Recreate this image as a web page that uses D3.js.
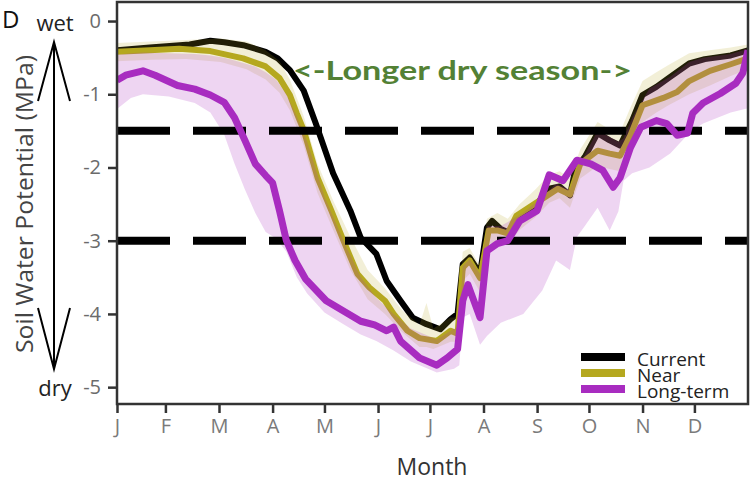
<!DOCTYPE html>
<html>
<head>
<meta charset="utf-8">
<script src="https://cdn.jsdelivr.net/npm/d3@7"></script>
<style>
  html, body { margin: 0; padding: 0; background: #fff; }
  svg { display: block; }
</style>
</head>
<body>
<svg id="chart" width="753" height="481"></svg>
<script>
// ---------------- DATA ----------------
const monthDays   = [0, 28, 59, 90, 120, 151, 181, 212, 243, 273, 304, 334];
const monthLabels = ["J", "F", "M", "A", "M", "J", "J", "A", "S", "O", "N", "D"];
const yTicks      = [0, -1, -2, -3, -4, -5];
const thresholds  = [-1.5, -3];
const seriesNames = ["Current", "Near", "Long-term"];

const currentDays = [0,19,42,54,62,73,86,93,100,108,115,125,135,141,150,156,164,171,179,187,193,197,200,204,210,214,217,222,227,233,242,250,256,262,265,271,278,285,291,298,304,312,319,331,340,355,365];
const currentVals = [-0.40,-0.36,-0.32,-0.27,-0.29,-0.33,-0.42,-0.51,-0.67,-0.95,-1.40,-2.08,-2.59,-2.96,-3.18,-3.55,-3.82,-4.05,-4.14,-4.21,-4.07,-4.00,-3.32,-3.23,-3.45,-2.82,-2.73,-2.84,-2.89,-2.70,-2.52,-2.29,-2.26,-2.38,-2.04,-1.84,-1.53,-1.63,-1.70,-1.36,-1.01,-0.90,-0.78,-0.58,-0.52,-0.47,-0.40];

const nearDays = [0,19,36,54,73,86,94,100,104,108,116,124,131,139,146,155,160,168,175,185,193,197,200,204,210,215,220,226,231,242,255,262,268,278,285,291,297,304,316,324,331,343,355,365];
const nearVals = [-0.42,-0.40,-0.38,-0.41,-0.51,-0.62,-0.78,-1.01,-1.26,-1.49,-2.14,-2.59,-3.00,-3.45,-3.64,-3.82,-4.00,-4.23,-4.33,-4.37,-4.23,-4.27,-3.37,-3.27,-3.51,-2.86,-2.86,-2.90,-2.66,-2.49,-2.29,-2.37,-1.95,-1.77,-1.81,-1.84,-1.56,-1.15,-1.05,-0.97,-0.82,-0.68,-0.59,-0.51];

const longDays = [0,5,15,22,35,45,54,62,68,74,80,86,90,94,98,103,109,121,131,141,149,156,160,164,175,185,191,197,200,203,210,214,220,226,233,243,250,258,266,274,281,287,291,297,303,312,318,324,330,333,339,349,358,362,365];
const longVals = [-0.81,-0.74,-0.68,-0.74,-0.88,-0.93,-1.01,-1.11,-1.32,-1.63,-1.95,-2.11,-2.21,-2.59,-3.00,-3.27,-3.52,-3.82,-3.96,-4.10,-4.15,-4.23,-4.18,-4.37,-4.60,-4.70,-4.60,-4.48,-3.82,-3.60,-4.05,-3.14,-3.04,-3.00,-2.73,-2.59,-2.10,-2.18,-1.90,-1.95,-2.04,-2.27,-2.14,-1.73,-1.45,-1.36,-1.40,-1.56,-1.53,-1.26,-1.12,-0.99,-0.85,-0.71,-0.40];

const nearBandDays = [0,20,40,60,75,86,94,100,108,116,125,135,145,155,165,175,179,183,193,197,200,204,210,214,220,226,233,242,250,256,262,268,278,285,291,297,304,312,319,331,343,355,365];
const nearBandHi   = [-0.30,-0.28,-0.26,-0.24,-0.28,-0.40,-0.55,-0.80,-1.30,-1.95,-2.45,-2.95,-3.40,-3.65,-3.95,-4.15,-3.85,-4.20,-4.05,-4.05,-3.15,-3.10,-3.35,-2.70,-2.62,-2.70,-2.50,-2.30,-2.10,-2.05,-2.15,-1.75,-1.38,-1.48,-1.52,-1.18,-0.82,-0.70,-0.60,-0.44,-0.40,-0.36,-0.32];
const nearBandLo   = [-0.55,-0.53,-0.52,-0.56,-0.66,-0.80,-0.98,-1.22,-1.70,-2.35,-2.85,-3.40,-3.80,-4.00,-4.25,-4.45,-4.45,-4.48,-4.38,-4.38,-3.55,-3.45,-3.70,-3.05,-3.02,-3.05,-2.85,-2.68,-2.48,-2.42,-2.55,-2.15,-1.98,-2.02,-2.05,-1.80,-1.38,-1.25,-1.15,-1.00,-0.88,-0.75,-0.66];

const longBandDays = [0,8,15,30,45,54,62,68,74,80,86,92,98,104,110,120,131,141,150,160,170,185,195,198,200,204,210,214,222,235,246,254,262,266,270,278,285,290,293,298,308,320,331,339,355,365];
const longBandHi   = [-0.46,-0.44,-0.43,-0.44,-0.45,-0.47,-0.50,-0.54,-0.58,-0.62,-0.70,-0.80,-1.00,-1.30,-1.65,-2.40,-3.00,-3.50,-3.78,-4.00,-4.20,-4.35,-4.20,-4.20,-3.35,-3.25,-3.45,-2.80,-2.80,-2.62,-2.40,-2.22,-2.30,-2.00,-1.85,-1.50,-1.58,-1.65,-1.60,-1.32,-0.92,-0.76,-0.56,-0.50,-0.45,-0.38];
const longBandLo   = [-1.20,-1.05,-1.00,-1.03,-1.12,-1.25,-1.55,-1.95,-2.30,-2.62,-2.88,-2.97,-3.15,-3.50,-3.72,-3.98,-4.14,-4.28,-4.37,-4.50,-4.65,-4.80,-4.75,-4.70,-4.05,-4.00,-4.42,-4.30,-4.12,-4.00,-3.68,-3.27,-3.40,-2.95,-2.82,-2.55,-2.86,-2.60,-2.18,-2.08,-2.00,-1.81,-1.53,-1.40,-1.25,-1.19];

// ---------------- LAYOUT ----------------
const svg = d3.select("#chart");
const L = 117, R = 748, T = 2, B = 404;
const x = d3.scaleLinear().domain([0, 365]).range([L, R]);
const y = d3.scaleLinear().domain([0.26, -5.23]).range([T, B]);

const colCurrent = "#000000", colNear = "#b5a81f", colLong = "#a82cc0";
const FONT = "'Open Sans', 'DejaVu Sans', sans-serif";

svg.append("defs").append("clipPath").attr("id", "plotclip")
  .append("rect").attr("x", L).attr("y", T).attr("width", R - L).attr("height", B - T);

const plot = svg.append("g").attr("clip-path", "url(#plotclip)");

const zip = (d, v) => d.map((di, i) => [di, v[i]]);
const zip3 = (d, h, l) => d.map((di, i) => [di, h[i], l[i]]);
const line = d3.line().x(p => x(p[0])).y(p => y(p[1]));
const area = d3.area().x(p => x(p[0])).y0(p => y(p[2])).y1(p => y(p[1]));

// Current line
plot.append("path").datum(zip(currentDays, currentVals)).attr("d", line)
  .attr("fill", "none").attr("stroke", colCurrent).attr("stroke-width", 6)
  .attr("stroke-linejoin", "round");
// Near band & line
plot.append("path").datum(zip3(nearBandDays, nearBandHi, nearBandLo)).attr("d", area)
  .attr("fill", colNear).attr("fill-opacity", 0.18);
plot.append("path").datum(zip(nearDays, nearVals)).attr("d", line)
  .attr("fill", "none").attr("stroke", colNear).attr("stroke-width", 6)
  .attr("stroke-linejoin", "round");
// Long-term band
plot.append("path").datum(zip3(longBandDays, longBandHi, longBandLo)).attr("d", area)
  .attr("fill", colLong).attr("fill-opacity", 0.2);

// Threshold dashed lines
plot.selectAll("line.thr").data(thresholds).enter().append("line")
  .attr("class", "thr")
  .attr("x1", L).attr("x2", R)
  .attr("y1", d => y(d)).attr("y2", d => y(d))
  .attr("stroke", "#000").attr("stroke-width", 8)
  .attr("stroke-dasharray", "53 23");

// Long-term line
plot.append("path").datum(zip(longDays, longVals)).attr("d", line)
  .attr("fill", "none").attr("stroke", colLong).attr("stroke-width", 7)
  .attr("stroke-linejoin", "round");

// ---------------- AXES ----------------
const yAxis = d3.axisLeft(y).tickValues(yTicks).tickSize(9).tickPadding(7)
  .tickFormat(d => String(d));
const gy = svg.append("g").attr("transform", `translate(${L},0)`).call(yAxis);
gy.select(".domain").remove();
gy.selectAll(".tick line").attr("stroke", "#333").attr("stroke-width", 2.5);
gy.selectAll(".tick text").attr("font-family", FONT).attr("font-size", 20).attr("fill", "#6b6b6b");

const xAxis = d3.axisBottom(x).tickValues(monthDays).tickSize(9).tickPadding(6)
  .tickFormat((d, i) => monthLabels[i]);
const gx = svg.append("g").attr("transform", `translate(0,${B})`).call(xAxis);
gx.select(".domain").remove();
gx.selectAll(".tick line").attr("stroke", "#333").attr("stroke-width", 2.5);
gx.selectAll(".tick text").attr("font-family", FONT).attr("font-size", 20).attr("fill", "#7a7a7a");

// Frame
svg.append("rect").attr("x", L).attr("y", T).attr("width", R - L).attr("height", B - T)
  .attr("fill", "none").attr("stroke", "#333").attr("stroke-width", 2.5);

// Axis titles
svg.append("text").attr("x", 432).attr("y", 475).attr("text-anchor", "middle")
  .attr("font-family", FONT).attr("font-size", 23).attr("fill", "#333").text("Month");
svg.append("text").attr("transform", "translate(33,204) rotate(-90)").attr("text-anchor", "middle")
  .attr("font-family", FONT).attr("font-size", 23).attr("fill", "#444")
  .attr("textLength", 298).attr("lengthAdjust", "spacingAndGlyphs")
  .text("Soil Water Potential (MPa)");

// Panel letter
svg.append("text").attr("x", 2).attr("y", 28).attr("font-family", FONT)
  .attr("font-size", 24).attr("fill", "#111").text("D");

// wet / dry arrow
svg.append("text").attr("x", 55).attr("y", 31).attr("text-anchor", "middle")
  .attr("font-family", FONT).attr("font-size", 22).attr("fill", "#222").text("wet");
svg.append("text").attr("x", 55).attr("y", 396).attr("text-anchor", "middle")
  .attr("font-family", FONT).attr("font-size", 22).attr("fill", "#222").text("dry");
const arr = svg.append("g").attr("stroke", "#000").attr("stroke-width", 2).attr("fill", "none");
arr.append("line").attr("x1", 54).attr("x2", 54).attr("y1", 42).attr("y2", 369);
arr.append("polyline").attr("points", "38,101 54,42 70,101");
arr.append("polyline").attr("points", "38,308 54,369 70,308");

// Annotation
svg.append("text").attr("x", 293).attr("y", 80)
  .attr("font-family", "Lato, 'Open Sans', sans-serif").attr("font-weight", 700)
  .attr("font-size", 27).attr("fill", "#538135")
  .attr("textLength", 339).attr("lengthAdjust", "spacingAndGlyphs")
  .text("<-Longer dry season->");

// Legend
const legColors = [colCurrent, colNear, colLong];
const leg = svg.append("g");
seriesNames.forEach((name, i) => {
  const cy = 357 + i * 16;
  leg.append("line").attr("x1", 581).attr("x2", 625).attr("y1", cy).attr("y2", cy)
    .attr("stroke", legColors[i]).attr("stroke-width", 8);
  leg.append("text").attr("x", 637).attr("y", cy + 9)
    .attr("font-family", FONT).attr("font-size", 19).attr("fill", "#222").text(name);
});
</script>
</body>
</html>
